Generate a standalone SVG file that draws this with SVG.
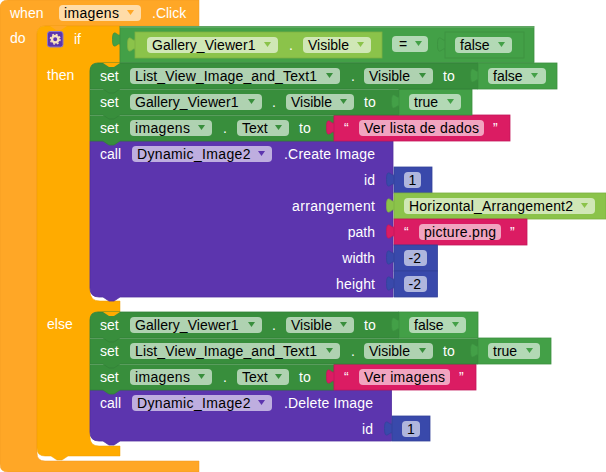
<svg xmlns="http://www.w3.org/2000/svg" width="606" height="472" viewBox="0 0 606 472">
<style>
text{font-family:"Liberation Sans",Arial,sans-serif;font-size:14px}
.w{fill:#fff}.k{fill:#000}.e{text-anchor:end}
.p{fill:#fff;fill-opacity:.6}
.o{fill:#FFA726;stroke:#EE9A22;stroke-width:.5}
.y{fill:#FFAB00;stroke:#EE9F00;stroke-width:.5}
.d{fill:#388E3C;stroke:#338237;stroke-width:.8}
.g{fill:#43A047;stroke:#3C9040;stroke-width:.8}
.l{fill:#8BC34A;stroke:#7DAF43;stroke-width:.8}
.r{fill:#DB1C63;stroke:#C4185A;stroke-width:.8}
.u{fill:#5C35AE;stroke:#522FA0;stroke-width:.8}
.b{fill:#3949AB;stroke:#33429A;stroke-width:.8}
.hd{fill:none;stroke:#74B077;stroke-width:1}
.ad{fill:#388E3C}.ag{fill:#43A047}.al{fill:#8BC34A}.au{fill:#5C35AE}.ao{fill:#FFA726}
</style>
<defs>
<path id="t" d="M0.500 5c0 10-8-8-8 7.500s8-2.500 8 7.500z"/>
<path id="a" d="M0 0h7l-3.500 5z"/>
</defs>

<g id="when-click">
<path class="o" d="M8 0H199V26H45q-8 0-8 8V453q0 8 8 8H199V472H8q-8 0-8-8V8q0-8 8-8z"/>
<text class="w" x="10" y="18">when</text>
<rect class="p" x="59" y="5" width="82" height="16" rx="4"/>
<text class="k" x="64" y="18" textLength="55">imagens</text>
<use href="#a" class="ao" x="127" y="10"/>
<text class="w" x="152" y="18">.Click</text>
<text class="w" x="10" y="43">do</text>
</g>

<g id="if-block">
<path class="y" d="M45 26H120V63H98q-8 0-8 8V291q0 10 10 10H120V312H98q-8 0-8 8V437q0 9 9 9H120V456H68l-6 4h-5l-6-4H45q-8 0-8-8V34q0-8 8-8z"/>
<path fill="#FFA726" d="M50 26l6 4h5l6-4z"/>
<g id="mutator">
<rect x="47.500" y="31.500" width="15.500" height="15.500" rx="2.500" fill="#5C35AE" stroke="#8E78C8"/>
<circle cx="55.200" cy="39.200" r="3.200" fill="none" stroke="#F6E3C0" stroke-width="2.400"/>
<circle cx="55.200" cy="39.200" r="4.800" fill="none" stroke="#F6E3C0" stroke-width="1.500" stroke-dasharray="1.900 1.870"/>
</g>
<text class="w" x="74" y="44">if</text>
<text class="w" x="47" y="80">then</text>
<text class="w" x="47" y="329">else</text>
</g>

<g id="condition">
<use href="#t" class="g" x="120" y="27"/>
<rect class="g" x="120" y="26.500" width="414" height="36"/>
<path class="hd" d="M120 27H534"/>
<rect class="p" x="392" y="36" width="36" height="16" rx="4"/>
<text class="k" x="399" y="49">=</text>
<use href="#a" class="ag" x="415" y="41"/>
</g>
<g id="gallery-visible-get">
<use href="#t" class="l" x="135" y="32"/>
<rect class="l" x="135" y="32" width="247" height="26"/>
<rect class="p" x="147" y="37" width="131" height="16" rx="4"/>
<text class="k" x="152" y="50" textLength="103.500">Gallery_Viewer1</text>
<use href="#a" class="al" x="264" y="42"/>
<text class="w" x="289" y="50">.</text>
<rect class="p" x="303" y="37" width="68" height="16" rx="4"/>
<text class="k" x="308" y="50">Visible</text>
<use href="#a" class="al" x="357" y="42"/>
</g>
<g id="false-1">
<use href="#t" class="g" x="445" y="32"/>
<rect class="g" x="445" y="32" width="79" height="26" stroke="#2D7230"/>
<rect class="p" x="455" y="37" width="57" height="16" rx="4"/>
<text class="k" x="460" y="50">false</text>
<use href="#a" class="ag" x="498" y="42"/>
</g>

<!-- then branch, bottom to top so each notch lies over the block below -->
<g id="call-create">
<path class="u" d="M90 141H393V297H120l-6 4h-5l-6-4H99q-9 0-9-9z"/>
<text class="w" x="100" y="159">call</text>
<rect class="p" x="132" y="146" width="140" height="16" rx="4"/>
<text class="k" x="137" y="159" textLength="113.500">Dynamic_Image2</text>
<use href="#a" class="au" x="258" y="151"/>
<text class="w" x="284" y="159" textLength="91">.Create Image</text>
<text class="w e" x="375" y="185">id</text>
<text class="w e" x="375" y="211" textLength="83">arrangement</text>
<text class="w e" x="375" y="237">path</text>
<text class="w e" x="375" y="263">width</text>
<text class="w e" x="375" y="289" textLength="39">height</text>
</g>
<g id="num-id-1">
<use href="#t" class="b" x="394" y="167"/>
<rect class="b" x="394" y="167" width="38" height="26"/>
<rect class="p" x="404" y="172" width="17" height="16" rx="4"/>
<text class="k" x="408.500" y="185">1</text>
</g>
<g id="arrangement">
<use href="#t" class="l" x="394" y="193"/>
<rect class="l" x="394" y="193" width="212" height="26"/>
<rect class="p" x="404" y="198" width="191" height="16" rx="4"/>
<text class="k" x="409" y="211" textLength="164">Horizontal_Arrangement2</text>
<use href="#a" class="al" x="581" y="203"/>
</g>
<g id="path-text">
<use href="#t" class="r" x="394" y="219"/>
<rect class="r" x="394" y="219" width="133" height="26"/>
<text class="w" x="404" y="237">“</text>
<rect class="p" x="419" y="224" width="82" height="16" rx="4"/>
<text class="k" x="424" y="237" textLength="72">picture.png</text>
<text class="w" x="510" y="237">”</text>
</g>
<g id="num-width">
<use href="#t" class="b" x="394" y="245"/>
<rect class="b" x="394" y="245" width="43.500" height="26"/>
<rect class="p" x="404" y="250" width="23" height="16" rx="4"/>
<text class="k" x="408.500" y="263">-2</text>
</g>
<g id="num-height">
<use href="#t" class="b" x="394" y="271"/>
<rect class="b" x="394" y="271" width="43.500" height="26"/>
<rect class="p" x="404" y="276" width="23" height="16" rx="4"/>
<text class="k" x="408.500" y="289">-2</text>
</g>

<g id="set-imagens-text">
<path class="d" d="M90 115H334V141H120l-6 4h-5l-6-4H90z"/>
<path class="hd" d="M90 115.500H334"/>
<text class="w" x="100" y="133">set</text>
<rect class="p" x="130" y="120" width="82" height="16" rx="4"/>
<text class="k" x="135" y="133" textLength="55">imagens</text>
<use href="#a" class="ad" x="198" y="125"/>
<text class="w" x="223" y="133">.</text>
<rect class="p" x="237" y="120" width="52" height="16" rx="4"/>
<text class="k" x="242" y="133">Text</text>
<use href="#a" class="ad" x="275" y="125"/>
<text class="w" x="299" y="133">to</text>
</g>
<g id="text-ver-lista">
<use href="#t" class="r" x="334" y="115"/>
<rect class="r" x="334" y="115" width="176" height="26"/>
<text class="w" x="344" y="133">“</text>
<rect class="p" x="359" y="120" width="125" height="16" rx="4"/>
<text class="k" x="364" y="133" textLength="115">Ver lista de dados</text>
<text class="w" x="493" y="133">”</text>
</g>

<g id="set-gallery-visible">
<path class="d" d="M90 89H399V115H120l-6 4h-5l-6-4H90z"/>
<path class="hd" d="M90 89.500H399"/>
<text class="w" x="100" y="107">set</text>
<rect class="p" x="130" y="94" width="132" height="16" rx="4"/>
<text class="k" x="135" y="107" textLength="103.500">Gallery_Viewer1</text>
<use href="#a" class="ad" x="248" y="99"/>
<text class="w" x="272" y="107">.</text>
<rect class="p" x="286" y="94" width="68" height="16" rx="4"/>
<text class="k" x="291" y="107">Visible</text>
<use href="#a" class="ad" x="340" y="99"/>
<text class="w" x="364" y="107">to</text>
</g>
<g id="true-1">
<use href="#t" class="g" x="399" y="89"/>
<rect class="g" x="399" y="89" width="73" height="26"/>
<rect class="p" x="409" y="94" width="52" height="16" rx="4"/>
<text class="k" x="414" y="107">true</text>
<use href="#a" class="ag" x="447" y="99"/>
</g>

<g id="set-list-visible">
<path class="d" d="M98 63H478V89H120l-6 4h-5l-6-4H90V71q0-8 8-8z"/>
<path fill="#FFAB00" d="M103 63l6 4h5l6-4z"/>
<text class="w" x="100" y="81">set</text>
<rect class="p" x="130" y="68" width="210" height="16" rx="4"/>
<text class="k" x="135" y="81" textLength="182">List_View_Image_and_Text1</text>
<use href="#a" class="ad" x="326" y="73"/>
<text class="w" x="351" y="81">.</text>
<rect class="p" x="364" y="68" width="69" height="16" rx="4"/>
<text class="k" x="369" y="81">Visible</text>
<use href="#a" class="ad" x="419" y="73"/>
<text class="w" x="443" y="81">to</text>
</g>
<g id="false-2">
<use href="#t" class="g" x="478" y="63"/>
<rect class="g" x="478" y="63" width="79" height="26"/>
<rect class="p" x="488" y="68" width="58" height="16" rx="4"/>
<text class="k" x="493" y="81">false</text>
<use href="#a" class="ag" x="531" y="73"/>
</g>

<!-- else branch -->
<g id="call-delete">
<path class="u" d="M90 390H391.500V441H120l-6 4h-5l-6-4H99q-9 0-9-9z"/>
<text class="w" x="100" y="408">call</text>
<rect class="p" x="132" y="395" width="140" height="16" rx="4"/>
<text class="k" x="137" y="408" textLength="113.500">Dynamic_Image2</text>
<use href="#a" class="au" x="258" y="400"/>
<text class="w" x="284" y="408" textLength="89">.Delete Image</text>
<text class="w e" x="373" y="434">id</text>
</g>
<g id="num-id-2">
<use href="#t" class="b" x="392" y="416"/>
<rect class="b" x="392" y="416" width="38" height="25"/>
<rect class="p" x="402" y="421" width="18" height="16" rx="4"/>
<text class="k" x="407" y="434">1</text>
</g>

<g id="set-imagens-text-2">
<path class="d" d="M90 364H334V390H120l-6 4h-5l-6-4H90z"/>
<path class="hd" d="M90 364.500H334"/>
<text class="w" x="100" y="382">set</text>
<rect class="p" x="130" y="369" width="82" height="16" rx="4"/>
<text class="k" x="135" y="382" textLength="55">imagens</text>
<use href="#a" class="ad" x="198" y="374"/>
<text class="w" x="223" y="382">.</text>
<rect class="p" x="237" y="369" width="52" height="16" rx="4"/>
<text class="k" x="242" y="382">Text</text>
<use href="#a" class="ad" x="275" y="374"/>
<text class="w" x="299" y="382">to</text>
</g>
<g id="text-ver-imagens">
<use href="#t" class="r" x="334" y="364"/>
<rect class="r" x="334" y="364" width="142" height="26"/>
<text class="w" x="344" y="382">“</text>
<rect class="p" x="359" y="369" width="91" height="16" rx="4"/>
<text class="k" x="364" y="382" textLength="81">Ver imagens</text>
<text class="w" x="459" y="382">”</text>
</g>

<g id="set-list-visible-2">
<path class="d" d="M90 338H478V364H120l-6 4h-5l-6-4H90z"/>
<path class="hd" d="M90 338.500H478"/>
<text class="w" x="100" y="356">set</text>
<rect class="p" x="130" y="343" width="210" height="16" rx="4"/>
<text class="k" x="135" y="356" textLength="182">List_View_Image_and_Text1</text>
<use href="#a" class="ad" x="326" y="348"/>
<text class="w" x="351" y="356">.</text>
<rect class="p" x="364" y="343" width="69" height="16" rx="4"/>
<text class="k" x="369" y="356">Visible</text>
<use href="#a" class="ad" x="419" y="348"/>
<text class="w" x="443" y="356">to</text>
</g>
<g id="true-2">
<use href="#t" class="g" x="478" y="338"/>
<rect class="g" x="478" y="338" width="73" height="26"/>
<rect class="p" x="488" y="343" width="52" height="16" rx="4"/>
<text class="k" x="493" y="356">true</text>
<use href="#a" class="ag" x="526" y="348"/>
</g>

<g id="set-gallery-visible-2">
<path class="d" d="M98 312H399V338H120l-6 4h-5l-6-4H90V320q0-8 8-8z"/>
<path fill="#FFAB00" d="M103 312l6 4h5l6-4z"/>
<text class="w" x="100" y="330">set</text>
<rect class="p" x="130" y="317" width="132" height="16" rx="4"/>
<text class="k" x="135" y="330" textLength="103.500">Gallery_Viewer1</text>
<use href="#a" class="ad" x="248" y="322"/>
<text class="w" x="272" y="330">.</text>
<rect class="p" x="286" y="317" width="68" height="16" rx="4"/>
<text class="k" x="291" y="330">Visible</text>
<use href="#a" class="ad" x="340" y="322"/>
<text class="w" x="364" y="330">to</text>
</g>
<g id="false-3">
<use href="#t" class="g" x="399" y="312"/>
<rect class="g" x="399" y="312" width="79" height="26"/>
<rect class="p" x="409" y="317" width="57" height="16" rx="4"/>
<text class="k" x="414" y="330">false</text>
<use href="#a" class="ag" x="452" y="322"/>
</g>
</svg>
